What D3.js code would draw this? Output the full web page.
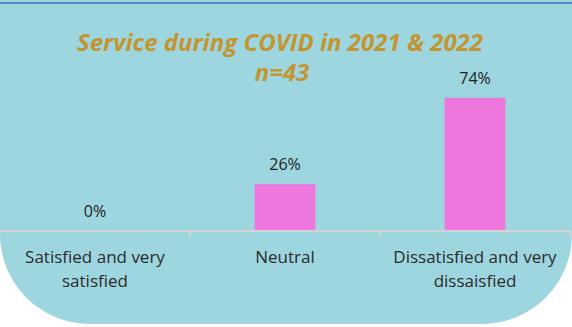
<!DOCTYPE html>
<html>
<head>
<meta charset="utf-8">
<script src="https://cdn.jsdelivr.net/npm/d3@7"></script>
<style>
    body { margin: 0; background: #fff; }
    svg { display: block; }
</style>
</head>
<body>
<div id="chart"></div>
<script>
const categories = [ 'Satisfied and very satisfied', 'Neutral', 'Dissatisfied and very dissaisfied' ];
const values = [ 0, 26, 74 ];
const labelLines = [ [ 'Satisfied and very', 'satisfied' ], [ 'Neutral' ], [ 'Dissatisfied and very', 'dissaisfied' ] ];
const title = 'Service during COVID in 2021 & 2022';
const subtitle = 'n=43';

const W = 572, H = 327;

const svg = d3.select( '#chart' ).append( 'svg' ).attr( 'width', W ).attr( 'height', H );

// teal panel with big rounded bottom corners
const r = 90, bot = 324;
svg.append( 'path' )
    .attr( 'd', `M0,0 H${W} V${bot - r} A${r},${r} 0 0 1 ${W - r},${bot} H${r} A${r},${r} 0 0 1 0,${bot - r} Z` )
    .attr( 'fill', '#9dd6df' );

svg.append( 'line' )
    .attr( 'x1', 0 ).attr( 'x2', W ).attr( 'y1', 3 ).attr( 'y2', 3 )
    .attr( 'stroke', '#5b86c6' ).attr( 'stroke-width', 2 );

svg.append( 'text' )
    .attr( 'x', 280 ).attr( 'y', 51 )
    .attr( 'text-anchor', 'middle' )
    .style( 'font', 'italic bold 24px "Open Sans", sans-serif' )
    .attr( 'fill', '#c39530' )
    .text( title );

svg.append( 'text' )
    .attr( 'x', 282 ).attr( 'y', 81 )
    .attr( 'text-anchor', 'middle' )
    .style( 'font', 'italic bold 24px "Open Sans", sans-serif' )
    .attr( 'fill', '#c39530' )
    .text( subtitle );

const baseY = 231;

const x = d3.scaleBand().domain( categories ).range( [ 0, 570 ] ).paddingInner( 0.68 ).paddingOuter( 0.34 );
const y = d3.scaleLinear().domain( [ 0, 100 ] ).range( [ baseY, baseY - 180 ] );

const g = svg.append( 'g' );

g.selectAll( '.bar' )
    .data( values )
    .enter().append( 'rect' )
    .attr( 'class', 'bar' )
    .attr( 'x', ( d, i ) => x( categories[ i ] ) )
    .attr( 'width', x.bandwidth() )
    .attr( 'y', d => y( d ) )
    .attr( 'height', d => y( 0 ) - y( d ) )
    .attr( 'fill', '#ee77de' );

g.selectAll( '.val' )
    .data( values )
    .enter().append( 'text' )
    .attr( 'class', 'val' )
    .attr( 'x', ( d, i ) => x( categories[ i ] ) + x.bandwidth() / 2 )
    .attr( 'y', d => y( d ) - 14 )
    .attr( 'text-anchor', 'middle' )
    .style( 'font', '16px "Open Sans", sans-serif' )
    .attr( 'fill', '#222' )
    .text( d => d + '%' );

// x axis
const band = d3.scaleBand().domain( categories ).range( [ 0, 570 ] );
const axis = g.append( 'g' )
    .attr( 'transform', 'translate(0,' + baseY + ')' )
    .call( d3.axisBottom( band ).tickSize( 0 ).tickFormat( '' ) );
axis.select( '.domain' ).attr( 'stroke', '#d3d3d3' ).attr( 'stroke-width', 2 ).attr( 'd', 'M0,0H570' );

axis.selectAll( '.sep' )
    .data( [ 1, 2, 3 ] )
    .enter().append( 'line' )
    .attr( 'x1', i => i * band.step() ).attr( 'x2', i => i * band.step() )
    .attr( 'y1', 0 ).attr( 'y2', 6 )
    .attr( 'stroke', '#d3d3d3' ).attr( 'stroke-width', 2 );

categories.forEach( ( c, i ) => {
    const t = g.append( 'text' )
        .attr( 'text-anchor', 'middle' )
        .style( 'font', '17px "Open Sans", sans-serif' )
        .attr( 'fill', '#2b2b2b' );
    labelLines[ i ].forEach( ( line, j ) => {
        t.append( 'tspan' )
            .attr( 'x', band( c ) + band.bandwidth() / 2 )
            .attr( 'y', 263 + j * 24 )
            .text( line );
    } );
} );
</script>
</body>
</html>
